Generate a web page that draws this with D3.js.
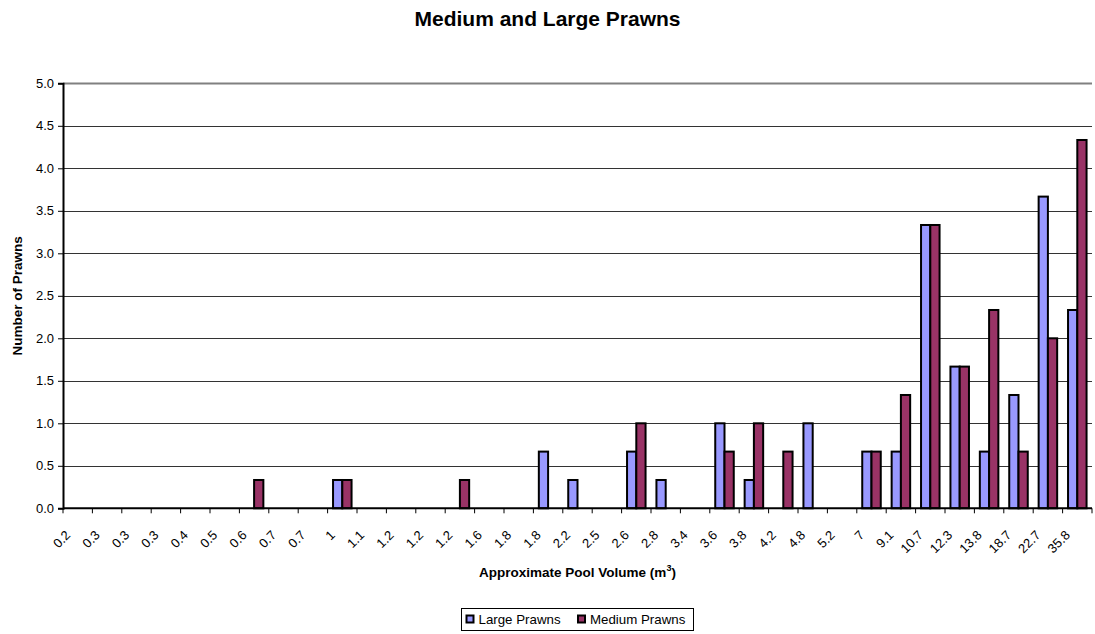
<!DOCTYPE html>
<html>
<head>
<meta charset="utf-8">
<script src="https://cdn.jsdelivr.net/npm/d3@7"></script>
<style>
  html, body { margin: 0; padding: 0; background: #ffffff; }
  svg { display: block; font-family: "Liberation Sans", Arial, sans-serif; }
</style>
</head>
<body>
<svg id="chart" width="1095" height="634"></svg>
<script>
// Pool volumes (m³) used as category labels along the x axis
const categories = ["0.2","0.3","0.3","0.3","0.4","0.5","0.6","0.7","0.7","1",
  "1.1","1.2","1.2","1.2","1.6","1.8","1.8","2.2","2.5","2.6",
  "2.8","3.4","3.6","3.8","4.2","4.8","5.2","7","9.1","10.7",
  "12.3","13.8","18.7","22.7","35.8"];

// Average number of prawns per pool
const largePrawns = [0,0,0,0,0,0,0,0,0,0.333,
  0,0,0,0,0,0,0.667,0.333,0,0.667,
  0.333,0,1,0.333,0,1,0,0.667,0.667,3.333,
  1.667,0.667,1.333,3.667,2.333];

const mediumPrawns = [0,0,0,0,0,0,0.333,0,0,0.333,
  0,0,0,0.333,0,0,0,0,0,1,
  0,0,0.667,1,0.667,0,0,0.667,1.333,3.333,
  1.667,2.333,0.667,2,4.333];

const seriesNames = ["Large Prawns", "Medium Prawns"];
const seriesColors = ["#9999FF", "#993366"];
const yTicks = [0, 0.5, 1, 1.5, 2, 2.5, 3, 3.5, 4, 4.5, 5];

const svg = d3.select("#chart");
const plot = { left: 63, right: 1092, top: 83.3, bottom: 508.3 };

const x = d3.scaleBand()
  .domain(d3.range(categories.length))
  .range([plot.left, plot.right])
  .paddingInner(0.37)
  .paddingOuter(0.185);

const step = x.step();

const xs = d3.scaleBand()
  .domain([0, 1])
  .range([0, x.bandwidth()]);

const y = d3.scaleLinear().domain([0, 5]).range([plot.bottom, plot.top]);

// Horizontal gridlines
svg.append("g")
  .selectAll("line")
  .data(yTicks.filter(d => d > 0))
  .join("line")
  .attr("x1", plot.left)
  .attr("x2", plot.right)
  .attr("y1", d => Math.round(y(d)) + 0.5)
  .attr("y2", d => Math.round(y(d)) + 0.5)
  .attr("stroke", d => d === 5 ? "#808080" : "#333333")
  .attr("stroke-width", d => d === 5 ? 2 : 1);

// Bars
const table = categories.map((c, i) => ({ i, values: [largePrawns[i], mediumPrawns[i]] }));

svg.append("g")
  .selectAll("g")
  .data(table)
  .join("g")
  .attr("transform", d => `translate(${x(d.i)},0)`)
  .selectAll("rect")
  .data(d => d.values.map((v, s) => ({ v, s })))
  .join("rect")
  .attr("x", d => xs(d.s))
  .attr("width", xs.bandwidth())
  .attr("y", d => y(d.v))
  .attr("height", d => y(0) - y(d.v))
  .attr("fill", d => seriesColors[d.s])
  .attr("stroke", "#000000")
  .attr("stroke-width", 2);

// Y axis
const yAxis = svg.append("g")
  .attr("transform", `translate(${plot.left},0)`)
  .call(d3.axisLeft(y).tickValues(yTicks).tickFormat(d3.format(".1f")).tickSize(5).tickPadding(4));
yAxis.select(".domain").attr("stroke", "#000").attr("stroke-width", 2);
yAxis.selectAll(".tick line").attr("stroke", "#000");
yAxis.selectAll(".tick text")
  .attr("font-family", "Liberation Sans, Arial, sans-serif")
  .attr("font-size", 13)
  .attr("fill", "#000");

// X axis: tick marks at category boundaries
const xAxis = svg.append("g");
xAxis.append("line")
  .attr("x1", plot.left).attr("x2", plot.right)
  .attr("y1", plot.bottom).attr("y2", plot.bottom)
  .attr("stroke", "#000").attr("stroke-width", 2);
xAxis.selectAll("line.tick")
  .data(d3.range(categories.length + 1))
  .join("line")
  .attr("class", "tick")
  .attr("x1", i => plot.left + i * step)
  .attr("x2", i => plot.left + i * step)
  .attr("y1", plot.bottom)
  .attr("y2", plot.bottom + 5)
  .attr("stroke", "#000");

// Rotated category labels
xAxis.selectAll("text")
  .data(categories)
  .join("text")
  .attr("transform", (d, i) => `translate(${x(i) + x.bandwidth() / 2 - 6.5},536) rotate(-45)`)
  .attr("text-anchor", "end")
  .attr("font-size", 13)
  .attr("fill", "#000")
  .text(d => d);

// Title
svg.append("text")
  .attr("x", 547.5)
  .attr("y", 26)
  .attr("text-anchor", "middle")
  .attr("font-size", 21)
  .attr("font-weight", "bold")
  .text("Medium and Large Prawns");

// Axis titles
svg.append("text")
  .attr("transform", `translate(22,${(plot.top + plot.bottom) / 2}) rotate(-90)`)
  .attr("text-anchor", "middle")
  .attr("font-size", 13.5)
  .attr("font-weight", "bold")
  .text("Number of Prawns");

const xt = svg.append("text")
  .attr("x", (plot.left + plot.right) / 2)
  .attr("y", 577)
  .attr("text-anchor", "middle")
  .attr("font-size", 13.5)
  .attr("font-weight", "bold");
xt.append("tspan").text("Approximate Pool Volume (m");
xt.append("tspan").attr("font-size", 9).attr("dy", -6).text("3");
xt.append("tspan").attr("dy", 6).text(")");

// Legend
const legend = svg.append("g");
legend.append("rect")
  .attr("x", 461.5).attr("y", 608.5)
  .attr("width", 232).attr("height", 22)
  .attr("fill", "#fff").attr("stroke", "#000").attr("stroke-width", 1);
const legendX = [466, 577.5];
const items = legend.selectAll("g.item")
  .data(seriesNames)
  .join("g")
  .attr("class", "item")
  .attr("transform", (d, i) => `translate(${legendX[i]},0)`);
items.append("rect")
  .attr("x", 0.5).attr("y", 615.5)
  .attr("width", 7).attr("height", 7)
  .attr("fill", (d, i) => seriesColors[i])
  .attr("stroke", "#000").attr("stroke-width", 2);
items.append("text")
  .attr("x", 12.5)
  .attr("y", 623.5)
  .attr("font-size", 13.3)
  .attr("fill", "#000")
  .text(d => d);
</script>
</body>
</html>
